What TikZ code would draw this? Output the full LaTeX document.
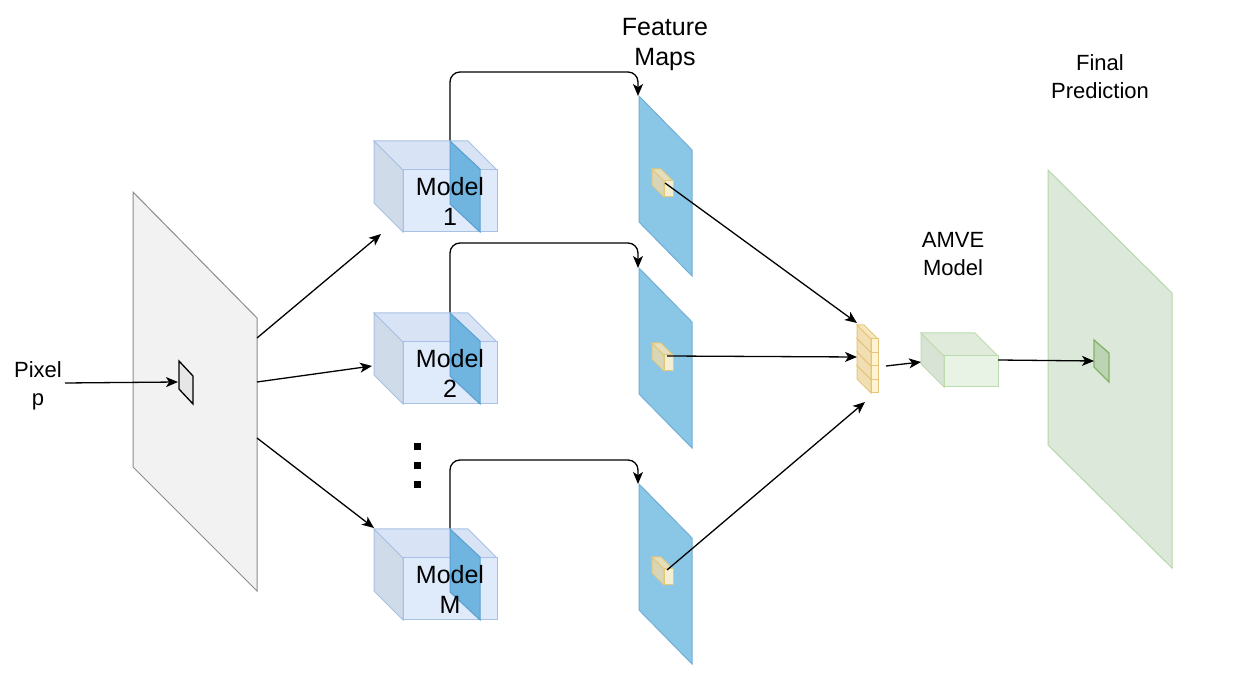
\documentclass[tikz,border=0pt]{standalone}
\usepackage{fontspec}
\setmainfont{Liberation Sans}
\usepackage{xcolor}
\usetikzlibrary{arrows.meta}

\definecolor{planefill}{HTML}{F2F2F2}
\definecolor{planeline}{HTML}{8C8C8C}
\definecolor{pixfill}{HTML}{E6E6E6}
\definecolor{modelfront}{HTML}{DFEAFB}
\definecolor{modeltop}{HTML}{D8E4F5}
\definecolor{modelside}{HTML}{D0DBEA}
\definecolor{modelline}{HTML}{A8C1E3}
\definecolor{slabfill}{HTML}{6FB5DF}
\definecolor{slabline}{HTML}{5A9FD2}
\definecolor{mapfill}{HTML}{8AC6E6}
\definecolor{mapline}{HTML}{72AED6}
\definecolor{featfront}{HTML}{F4EFD2}
\definecolor{feattop}{HTML}{E4DEBC}
\definecolor{featside}{HTML}{D9D6B8}
\definecolor{featline}{HTML}{E3C77A}
\definecolor{aggfront}{HTML}{FFF3D2}
\definecolor{aggtop}{HTML}{F6E6BE}
\definecolor{aggside}{HTML}{F1DFB3}
\definecolor{aggline}{HTML}{E6C57A}
\definecolor{amvefront}{HTML}{E8F2E5}
\definecolor{amvetop}{HTML}{E0EBDC}
\definecolor{amveside}{HTML}{D8E3D5}
\definecolor{amveline}{HTML}{BCDCAE}
\definecolor{predfill}{HTML}{DCE8DA}
\definecolor{predline}{HTML}{B6D7A8}
\definecolor{predpix}{HTML}{BCD3B4}
\definecolor{predpixline}{HTML}{82B366}

% cube: x, y (top left), width, height, depth, colour prefix
\newcommand{\drawcube}[6]{%
  \path[draw=#6line, fill=#6side, line width=0.5pt]
    (#1,#2) -- ({#1+#5},{#2+#5}) -- ({#1+#5},{#2+#4}) -- (#1,{#2+#4-#5}) -- cycle;
  \path[draw=#6line, fill=#6top, line width=0.5pt]
    (#1,#2) -- ({#1+#3-#5},#2) -- ({#1+#3},{#2+#5}) -- ({#1+#5},{#2+#5}) -- cycle;
  \path[draw=#6line, fill=#6front, line width=0.5pt]
    ({#1+#5},{#2+#5}) rectangle ({#1+#3},{#2+#4});
}

\tikzset{
  big/.style={font=\fontsize{12.5}{15}\selectfont, align=center, inner sep=0pt},
  small/.style={font=\fontsize{11}{14}\selectfont, align=center, inner sep=0pt},
  conn/.style={->, line width=0.65pt},
  elbow/.style={->, line width=0.65pt, rounded corners=5pt},
  mapplane/.style={fill=mapfill, draw=mapline, line width=0.5pt},
  slab/.style={fill=slabfill, draw=slabline, line width=0.5pt}
}

\begin{document}
\begin{tikzpicture}[>={Stealth[length=6pt,width=5pt,inset=1.6pt]}, x=0.5pt, y=-0.5pt]

    \useasboundingbox (0,0) rectangle (1239,673);

    % input image
    \path[fill=planefill, draw=planeline, line width=0.5pt]
      (133,192) -- (257,318) -- (257,591) -- (133,467) -- cycle;
    \path[fill=pixfill, draw=black, line width=0.65pt]
      (179,361) -- (193,376) -- (193,404) -- (179,389) -- cycle;
    \coordinate (pix) at (178,382);
    \coordinate (src1) at (257,338);
    \coordinate (src2) at (257,382);
    \coordinate (src3) at (257,438);

    \node[small] (pixeltxt) at (38,386) {Pixel\\p};
    \coordinate (pixstart) at (65,383);

    % elbow lines from the models up to the maps
    \coordinate (m1top) at (450,141);
    \coordinate (m2top) at (450,313);
    \coordinate (m3top) at (450,529);
    \coordinate (f1top) at (638,96);
    \coordinate (f2top) at (638,268);
    \coordinate (f3top) at (638,484);
    \draw[elbow] (m1top) -- (450,72) -- (638,72) -- (f1top);
    \draw[elbow] (m2top) -- (450,243) -- (638,243) -- (f2top);
    \draw[elbow] (m3top) -- (450,460) -- (638,460) -- (f3top);

    % models
    \drawcube{374}{141}{123}{91}{29}{model}
    \path[slab] (450,141) -- (480,169) -- (480,232) -- (450,204) -- cycle;
    \node[big] (model1) at (450,201) {Model\\1};

    \drawcube{374}{313}{123}{91}{29}{model}
    \path[slab] (450,313) -- (480,341) -- (480,404) -- (450,376) -- cycle;
    \node[big] (model2) at (450,373) {Model\\2};

    \drawcube{374}{529}{123}{91}{29}{model}
    \path[slab] (450,529) -- (480,557) -- (480,620) -- (450,592) -- cycle;
    \node[big] (model3) at (450,589) {Model\\M};

    \coordinate (m1in) at (381,234);
    \coordinate (m2in) at (372,366);
    \coordinate (m3in) at (374,528);

    % dots
    \fill (413.5,443.5) rectangle (420.5,450.5);
    \fill (413.5,462.5) rectangle (420.5,469.5);
    \fill (413.5,481.5) rectangle (420.5,488.5);

    % feature maps
    \path[mapplane] (639,96) -- (692,150) -- (692,276) -- (639,222) -- cycle;
    \path[mapplane] (639,268) -- (692,322) -- (692,448) -- (639,394) -- cycle;
    \path[mapplane] (639,484) -- (692,538) -- (692,664) -- (639,610) -- cycle;
    \drawcube{652}{169}{21}{28}{12}{feat}
    \drawcube{652}{343}{21}{28}{12}{feat}
    \drawcube{652}{557}{21}{28}{12}{feat}
    \coordinate (feat1) at (665,183);
    \coordinate (feat2) at (667,356);
    \coordinate (feat3) at (667,570);

    \node[big] (fmtxt) at (665,44) {Feature\\Maps};

    % stacked features
    \drawcube{857}{365.5}{21}{27.5}{14}{agg}
    \drawcube{857}{352}{21}{27.5}{14}{agg}
    \drawcube{857}{338.5}{21}{27.5}{14}{agg}
    \drawcube{857}{325}{21}{27.5}{14}{agg}
    \coordinate (agg1) at (857,323);
    \coordinate (agg2) at (857,357);
    \coordinate (agg3) at (865,402);
    \coordinate (aggout) at (886,366);

    % AMVE model
    \drawcube{921}{333}{77}{54}{23}{amve}
    \coordinate (amvein) at (921,362);
    \coordinate (amveout) at (998,360);
    \node[small] (amvetxt) at (953,254) {AMVE\\Model};

    % final prediction
    \path[fill=predfill, draw=predline, line width=0.5pt]
      (1048,170) -- (1172,293) -- (1172,568) -- (1048,445) -- cycle;
    \path[fill=predpix, draw=predpixline, line width=0.65pt]
      (1094,340) -- (1109,353) -- (1109,382) -- (1094,367) -- cycle;
    \coordinate (predpix) at (1094,361);
    \node[small] (finaltxt) at (1100,77) {Final\\Prediction};

    % connectors
    \draw[conn] (pixstart) -- (pix);
    \draw[conn] (src1) -- (m1in);
    \draw[conn] (src2) -- (m2in);
    \draw[conn] (src3) -- (m3in);
    \draw[conn] (feat1) -- (agg1);
    \draw[conn] (feat2) -- (agg2);
    \draw[conn] (feat3) -- (agg3);
    \draw[conn] (aggout) -- (amvein);
    \draw[conn] (amveout) -- (predpix);

\end{tikzpicture}
\end{document}
